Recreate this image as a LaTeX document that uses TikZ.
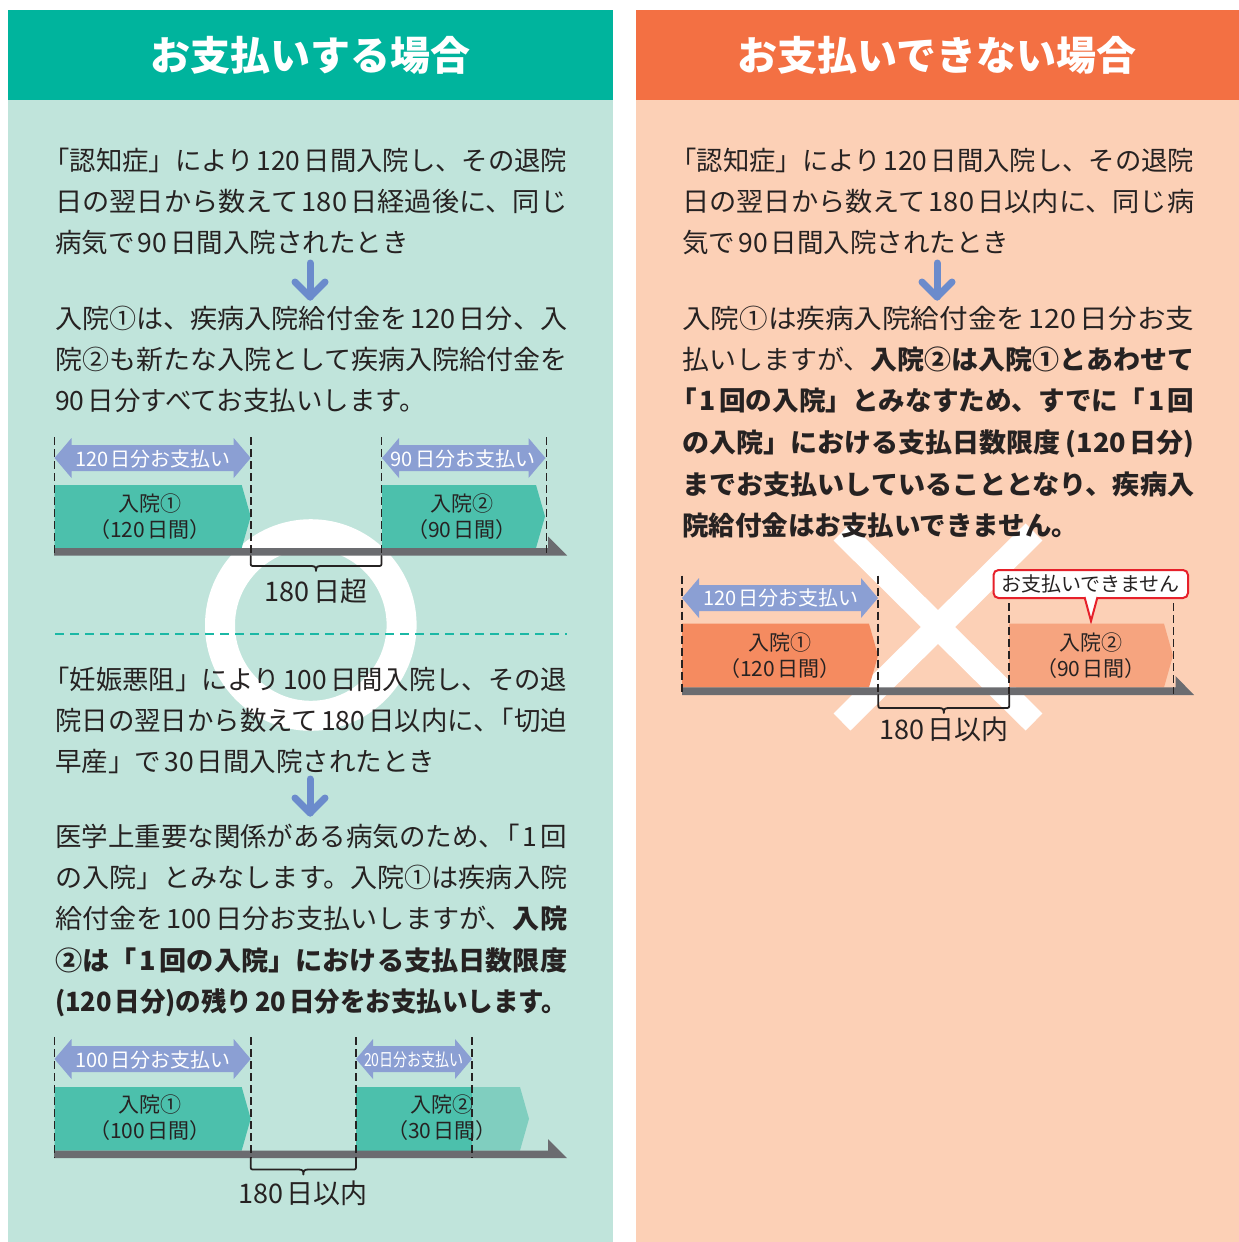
\documentclass[tikz,border=0pt]{standalone}
\usepackage{fontspec}
\setmainfont{Noto Sans CJK JP}
\usepackage{graphicx}
\definecolor{hdrteal}{HTML}{00B49D}
\definecolor{bgteal}{HTML}{C0E4DB}
\definecolor{tealbox}{HTML}{4CC0AC}
\definecolor{teallight}{HTML}{80CEBF}
\definecolor{septeal}{HTML}{1BB8A5}
\definecolor{hdrorange}{HTML}{F37043}
\definecolor{bgorange}{HTML}{FCD0B6}
\definecolor{orbox}{HTML}{F58B60}
\definecolor{orlight}{HTML}{F6A47F}
\definecolor{paycol}{HTML}{8B9FD3}
\definecolor{arrcol}{HTML}{6B8BCC}
\definecolor{bargray}{HTML}{6B6C70}
\definecolor{ink}{HTML}{262222}
\definecolor{calred}{HTML}{E6202A}
\newcommand\nb[1]{\hspace{0.12em}#1\hspace{0.12em}}
\newcommand\hk{\kern-0.45em}
\newcommand\fullline[1]{\resizebox{512pt}{\height}{#1}}
\newcommand\payarr[3]{% x1 x2 ymid
  \fill[paycol] (#1,#3) -- ({#1+17},{#3-20}) -- ({#1+17},{#3-13}) -- ({#2-17},{#3-13}) -- ({#2-17},{#3-20}) -- (#2,#3) -- ({#2-17},{#3+20}) -- ({#2-17},{#3+13}) -- ({#1+17},{#3+13}) -- ({#1+17},{#3+20}) -- cycle;}
\newcommand\stay[5]{% x1 x2 ytop ybot color
  \fill[#5] (#1,#3) -- ({#2-9},#3) -- (#2,{(#3+#4)/2}) -- ({#2-9},#4) -- (#1,#4) -- cycle;}
\newcommand\tbar[5]{% x1 xv xtip ytop ybot
  \fill[bargray] (#1,#4) -- (#2,#4) -- (#2,{#5-19}) -- (#3,#5) -- (#1,#5) -- cycle;}
\newcommand\brc[5]{% x1 x2 xm ytop yh
  \draw[brcstyle] (#1,#4) -- (#1,{#5-4}) .. controls (#1,#5) .. ({#1+4},#5) -- ({#3-5},#5) .. controls ({#3-1},#5) and (#3,{#5+1}) .. (#3,{#5+5}) .. controls (#3,{#5+1}) and ({#3+1},#5) .. ({#3+5},#5) -- ({#2-4},#5) .. controls (#2,#5) .. (#2,{#5-4}) -- (#2,#4);}
\begin{document}
\begin{tikzpicture}[x=1pt,y=-1pt,
  txt/.style={anchor=base west, inner sep=0pt, text=ink, font=\fontsize{26.5pt}{41pt}\selectfont},
  hdr/.style={text=white, inner sep=0pt, font=\fontsize{40pt}{48pt}\selectfont\bfseries},
  vdash/.style={draw=ink, line width=1.8pt, dash pattern=on 8pt off 4pt},
  brcstyle/.style={draw=ink, line width=1.8pt, line cap=round, line join=round},
  paytxt/.style={text=white, inner sep=0pt, font=\fontsize{20pt}{22pt}\selectfont},
  boxtxt/.style={text=ink, inner sep=0pt, align=center, font=\fontsize{21pt}{26pt}\selectfont},
  lbl/.style={text=ink, inner sep=0pt, font=\fontsize{27pt}{30pt}\selectfont},
  downarr/.style={draw=arrcol, line width=7pt, line cap=round, line join=round},
  sepline/.style={draw=septeal, line width=2pt, dash pattern=on 9pt off 6pt}]
\useasboundingbox (0,0) rectangle (1239,1242);
\fill[white] (0,0) rectangle (1239,1242);
% panels
\fill[bgteal] (8,100) rectangle (613,1242);
\fill[hdrteal] (8,10) rectangle (613,100);
\fill[bgorange] (636,100) rectangle (1239,1242);
\fill[hdrorange] (636,10) rectangle (1239,100);
\node[hdr] (hl) at (310,55) {お支払いする場合};
\node[hdr] (hr) at (937,55) {お支払いできない場合};
% ring and cross
\draw[white, line width=30pt] (310.8,625) circle[radius=90.8pt];
\draw[white, line width=24pt] (842,532) -- (1034,722) (1034,532) -- (842,722);
% left texts
\node[txt] (a1) at (55,170) {\fullline{\hk「認知症」により\nb{120}日間入院し、その退院}};
\node[txt] (a2) at (55,211) {\fullline{日の翌日から数えて\nb{180}日経過後に、同じ}};
\node[txt] (a3) at (55,252) {病気で\nb{90}日間入院されたとき};
\draw[downarr] (310,263) -- (310,297);
\draw[downarr] (295,282) -- (310,297) -- (325,282);
\node[txt] (b1) at (55,328) {\fullline{入院①は、疾病入院給付金を\nb{120}日分、入}};
\node[txt] (b2) at (55,369) {\fullline{院②も新たな入院として疾病入院給付金を}};
\node[txt] (b3) at (55,410) {90\hspace{0.12em}日分すべてお支払いします。};
\draw[sepline] (55,634) -- (567,634);
\node[txt] (c1) at (55,689) {\fullline{\hk「妊娠悪阻」により\nb{100}日間入院し、その退}};
\node[txt] (c2) at (55,730) {\fullline{院日の翌日から数えて\nb{180}日以内に、\hk「切迫}};
\node[txt] (c3) at (55,771) {早産」で\nb{30}日間入院されたとき};
\draw[downarr] (310,779) -- (310,813);
\draw[downarr] (295,798) -- (310,813) -- (325,798);
\node[txt] (d1) at (55,846) {\fullline{医学上重要な関係がある病気のため、\hk「\nb{1}回}};
\node[txt] (d2) at (55,887) {\fullline{の入院」とみなします。入院①は疾病入院}};
\node[txt] (d3) at (55,928) {\fullline{給付金を\nb{100}日分お支払いしますが、{\bfseries 入院}}};
\node[txt] (d4) at (55,970) {\fullline{\bfseries ②は「\nb{1}回の入院」における支払日数限度}};
\node[txt] (d5) at (55,1011) {\fullline{\bfseries (120\hspace{0.1em}日分)の残り\nb{20}日分をお支払いします。}};
% right texts
\node[txt] (e1) at (682,170) {\fullline{\hk「認知症」により\nb{120}日間入院し、その退院}};
\node[txt] (e2) at (682,211) {\fullline{日の翌日から数えて\nb{180}日以内に、同じ病}};
\node[txt] (e3) at (682,252) {気で\nb{90}日間入院されたとき};
\draw[downarr] (937,263) -- (937,297);
\draw[downarr] (922,282) -- (937,297) -- (952,282);
\node[txt] (f1) at (682,328) {\fullline{入院①は疾病入院給付金を\nb{120}日分お支}};
\node[txt] (f2) at (682,369) {\fullline{払いしますが、{\bfseries 入院②は入院①とあわせて}}};
\node[txt] (f3) at (682,410) {\fullline{\bfseries \hk「\nb{1}回の入院」とみなすため、すでに「\nb{1}回}};
\node[txt] (f4) at (682,452) {\fullline{\bfseries の入院」における支払日数限度\hspace{0.2em}(120\hspace{0.12em}日分)}};
\node[txt] (f5) at (682,494) {\fullline{\bfseries までお支払いしていることとなり、疾病入}};
\node[txt] (f6) at (682,535) {\bfseries 院給付金はお支払いできません。};
% timeline 1
\payarr{54.5}{250.7}{458}
\payarr{382}{545.5}{458}
\node[paytxt] (p1) at (153,459) {120\hspace{0.12em}日分お支払い};
\node[paytxt] (p2) at (463,459) {90\hspace{0.12em}日分お支払い};
\stay{54.5}{250.7}{485}{548}{tealbox}
\stay{382}{545}{485}{548}{tealbox}
\node[boxtxt] (s1) at (150,517) {入院①\\（120\hspace{0.12em}日間）};
\node[boxtxt] (s2) at (462,517) {入院②\\（90\hspace{0.12em}日間）};
\tbar{54}{548}{567}{548}{555.5}
\draw[vdash] (54.5,437) -- (54.5,556);
\draw[vdash] (250.7,437) -- (250.7,556);
\draw[vdash] (381.5,437) -- (381.5,556);
\draw[vdash] (546.5,437) -- (546.5,556);
\brc{250.7}{381.5}{316}{556}{566}
\node[lbl] (k1) at (316,591) {180\hspace{0.12em}日超};
% timeline 3
\payarr{54.5}{250.7}{1059}
\payarr{356}{472}{1059}
\node[paytxt] (p3) at (153,1060) {100\hspace{0.12em}日分お支払い};
\node[paytxt] (p4) at (414,1060) {\scalebox{0.78}[1]{\fontsize{18pt}{20pt}\selectfont 20日分お支払い}};
\stay{54.5}{250.7}{1087}{1150.5}{tealbox}
\stay{472}{529}{1087}{1150.5}{teallight}
\fill[tealbox] (356,1087) rectangle (472,1150.5);
\node[boxtxt] (s3) at (150,1118) {入院①\\（100\hspace{0.12em}日間）};
\node[boxtxt] (s4) at (442,1118) {入院②\\（30\hspace{0.12em}日間）};
\tbar{54}{548}{567}{1150.5}{1158}
\draw[vdash] (54.5,1037) -- (54.5,1158);
\draw[vdash] (250.7,1037) -- (250.7,1158);
\draw[vdash] (356,1037) -- (356,1158);
\draw[vdash] (472,1037) -- (472,1158);
\brc{250.7}{356}{303.4}{1158}{1169.5}
\node[lbl] (k3) at (303,1193) {180\hspace{0.12em}日以内};
% timeline 2 (right)
\payarr{682}{878}{598}
\node[paytxt] (p5) at (781,598) {120\hspace{0.12em}日分お支払い};
\draw[calred, fill=white, line width=2pt, rounded corners=5pt] (993.5,570) rectangle (1188,598);
\filldraw[draw=calred, fill=white, line width=2pt, line join=miter] (1084.5,597) -- (1091,621) -- (1097.5,597);
\node[inner sep=0pt, text=ink, font=\fontsize{20pt}{22pt}\selectfont] (co) at (1090.5,584) {お支払いできません};
\stay{682}{878}{623.7}{687.4}{orbox}
\stay{1009}{1173}{623.7}{687.4}{orlight}
\node[boxtxt] (s5) at (780,655.5) {入院①\\（120\hspace{0.12em}日間）};
\node[boxtxt] (s6) at (1091,655.5) {入院②\\（90\hspace{0.12em}日間）};
\tbar{682}{1175.5}{1194}{687.4}{695}
\draw[vdash] (682,575.5) -- (682,694.3);
\draw[vdash] (878.3,575.5) -- (878.3,694.3);
\draw[vdash] (1009.2,603) -- (1009.2,694.3);
\draw[vdash] (1173.4,603) -- (1173.4,694.3);
\brc{878.3}{1009.2}{943.8}{695}{708}
\node[lbl] (k2) at (944,729) {180\hspace{0.12em}日以内};
\end{tikzpicture}
\end{document}
